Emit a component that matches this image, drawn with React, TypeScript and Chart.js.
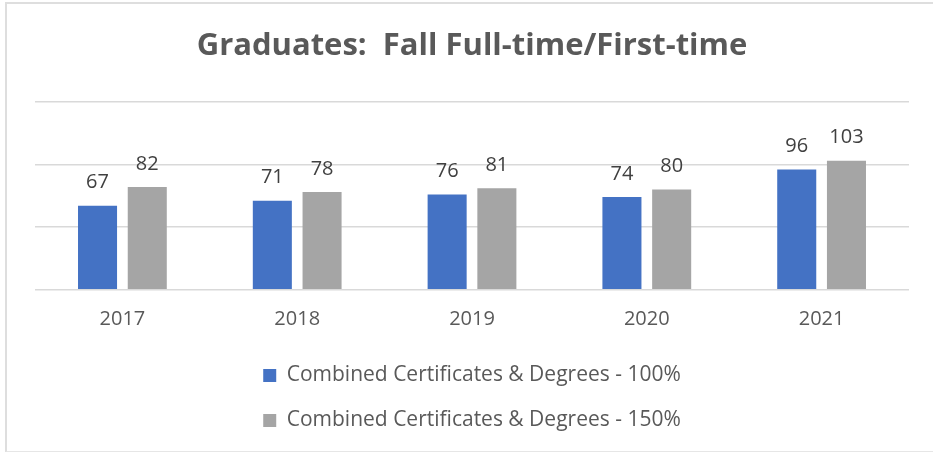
import React, { useEffect, useRef } from 'react';
import { Chart, registerables } from 'chart.js';

Chart.register(...registerables);

const titleText = 'Graduates:  Fall Full-time/First-time';
const categories = ['2017', '2018', '2019', '2020', '2021'];
const seriesNames = [
  'Combined Certificates & Degrees - 100%',
  'Combined Certificates & Degrees - 150%',
];
const values100 = [67, 71, 76, 74, 96];
const values150 = [82, 78, 81, 80, 103];
const yMin = 0;
const yMax = 150;
const yStep = 50;

const FONT = '"Open Sans", Lato, "DejaVu Sans", sans-serif';

const dataLabelPlugin = {
  id: 'dataLabels',
  afterDatasetsDraw(chart: any) {
    const ctx = chart.ctx;
    ctx.save();
    ctx.font = `20px ${FONT}`;
    ctx.fillStyle = '#404040';
    ctx.textAlign = 'center';
    ctx.textBaseline = 'alphabetic';
    chart.data.datasets.forEach((ds: any, i: number) => {
      const meta = chart.getDatasetMeta(i);
      meta.data.forEach((el: any, j: number) => {
        ctx.fillText(String(ds.data[j]), el.x, el.y - 17.5);
      });
    });
    ctx.restore();
  },
};

export default function App() {
  const canvasRef = useRef<HTMLCanvasElement | null>(null);

  useEffect(() => {
    if (!canvasRef.current) return;
    const chart = new Chart(canvasRef.current, {
      type: 'bar',
      data: {
        labels: categories,
        datasets: [
          {
            label: seriesNames[0],
            data: values100,
            backgroundColor: '#4472C4',
            borderWidth: 0,
          },
          {
            label: seriesNames[1],
            data: values150,
            backgroundColor: '#A5A5A5',
            borderWidth: 0,
          },
        ],
      },
      options: {
        responsive: false,
        animation: false,
        devicePixelRatio: 1,
        categoryPercentage: 0.569,
        barPercentage: 0.785,
        layout: { padding: { left: 35, right: 24, top: 0, bottom: 11 } },
        plugins: {
          title: {
            display: true,
            text: titleText,
            color: '#595959',
            font: { family: FONT, size: 31, weight: 'bold' },
            padding: { top: 27.2, bottom: 37.6 },
          },
          legend: {
            display: true,
            position: 'bottom',
            fullSize: false,
            labels: {
              boxWidth: 13,
              boxHeight: 13,
              padding: 24,
              color: '#595959',
              font: { family: FONT, size: 21 },
            },
          },
          tooltip: { enabled: false },
        },
        scales: {
          x: {
            grid: { display: false, drawTicks: false },
            border: { display: false },
            ticks: {
              color: '#595959',
              font: { family: FONT, size: 20 },
              padding: 18,
            },
            afterFit(scale: any) {
              scale.height -= 8.7;
            },
          },
          y: {
            min: yMin,
            max: yMax,
            ticks: { display: false, stepSize: yStep },
            grid: { color: '#d9d9d9', lineWidth: 1.5, drawTicks: false },
            border: { display: false },
          },
        },
      },
      plugins: [dataLabelPlugin],
    });
    return () => chart.destroy();
  }, []);

  return (
    <div style={{ position: 'absolute', left: 0, top: 0, width: 933, height: 452, overflow: 'hidden', background: '#fff' }}>
      <canvas ref={canvasRef} width={933} height={452} style={{ display: 'block', width: 933, height: 452 }} />
      <div
        style={{
          position: 'absolute',
          left: 5,
          top: 2,
          width: 960,
          height: 447,
          borderLeft: '2px solid #dedede',
          borderTop: '2px solid #dedede',
          borderBottom: '2px solid #e6e6e6',
          pointerEvents: 'none',
        }}
      />
    </div>
  );
}
